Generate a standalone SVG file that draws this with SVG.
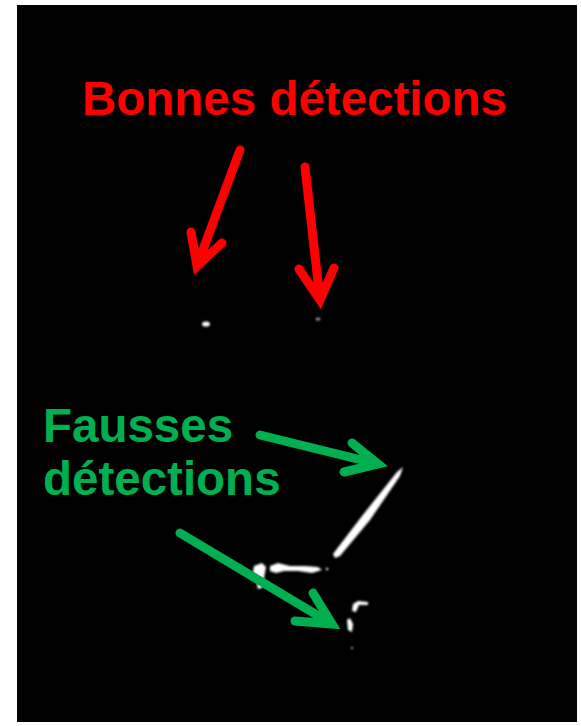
<svg xmlns="http://www.w3.org/2000/svg" width="581" height="726" viewBox="0 0 581 726">
<defs>
<style>
.lbl{font-family:"Liberation Sans",Arial,sans-serif;font-weight:bold;font-size:47.5px}
.red{fill:#FF0000}
.green{fill:#00B050}
.ar{fill:none;stroke-width:9;stroke-linecap:round;stroke-linejoin:miter;stroke-miterlimit:10}
.ar-r{stroke:#FF0000}
.ar-g{stroke:#00B050}
.spot{fill:#FFFFFF;filter:url(#blur)}
</style>
<filter id="blur" x="-50%" y="-50%" width="200%" height="200%"><feGaussianBlur stdDeviation="0.9"/></filter>
</defs>
<rect x="0" y="0" width="581" height="726" fill="#FFFFFF"/>
<rect x="17" y="5" width="560" height="717" fill="#000000"/>
<g id="detections">
<ellipse class="spot" cx="206" cy="324" rx="4" ry="2.6"/>
<ellipse cx="318" cy="319" rx="2.5" ry="1.6" fill="#9a9a9a" filter="url(#blur)"/>
<path class="spot" d="M403,467 L400,476 L370,520 L340,556 L335,558 L333,554 L362,516 L397,472 Z"/>
<path class="spot" d="M254,566 L262,563 L266,567 L264,578 L262,588 L258,589 L256,580 L253,572 Z"/>
<path class="spot" d="M270,566 L278,563 L290,566 L305,566 L318,567 L322,570 L312,573 L298,571 L284,571 L276,573 L270,571 Z"/>
<circle class="spot" cx="327" cy="569" r="1.2"/>
<path class="spot" d="M352,611 L353,604 L358,601 L368,602 L368,605 L359,605 L356,612 Z"/>
<path class="spot" d="M347,620 L350,618 L353,624 L352,632 L348,630 Z"/>
<circle class="spot" cx="352" cy="648" r="1"/>
</g>
<g id="label-bonnes">
<text class="lbl red" x="82" y="115">Bonnes détections</text>
</g>
<g id="label-fausses">
<text class="lbl green" x="43" y="442">Fausses</text>
<text class="lbl green" x="43" y="495">détections</text>
</g>
<g id="connectors">
<path class="ar ar-r" d="M240,150 L197,266 M191,232 L197,266 L222,243"/>
<path class="ar ar-r" d="M305,167 L320,300 M299,269 L320,300 L334,268"/>
<path class="ar ar-g" d="M260,435 L378,464 M352,443 L378,464 L344,472"/>
<path class="ar ar-g" d="M180,533 L332,624 M313,593 L332,624 L295,621"/>
</g>
</svg>
